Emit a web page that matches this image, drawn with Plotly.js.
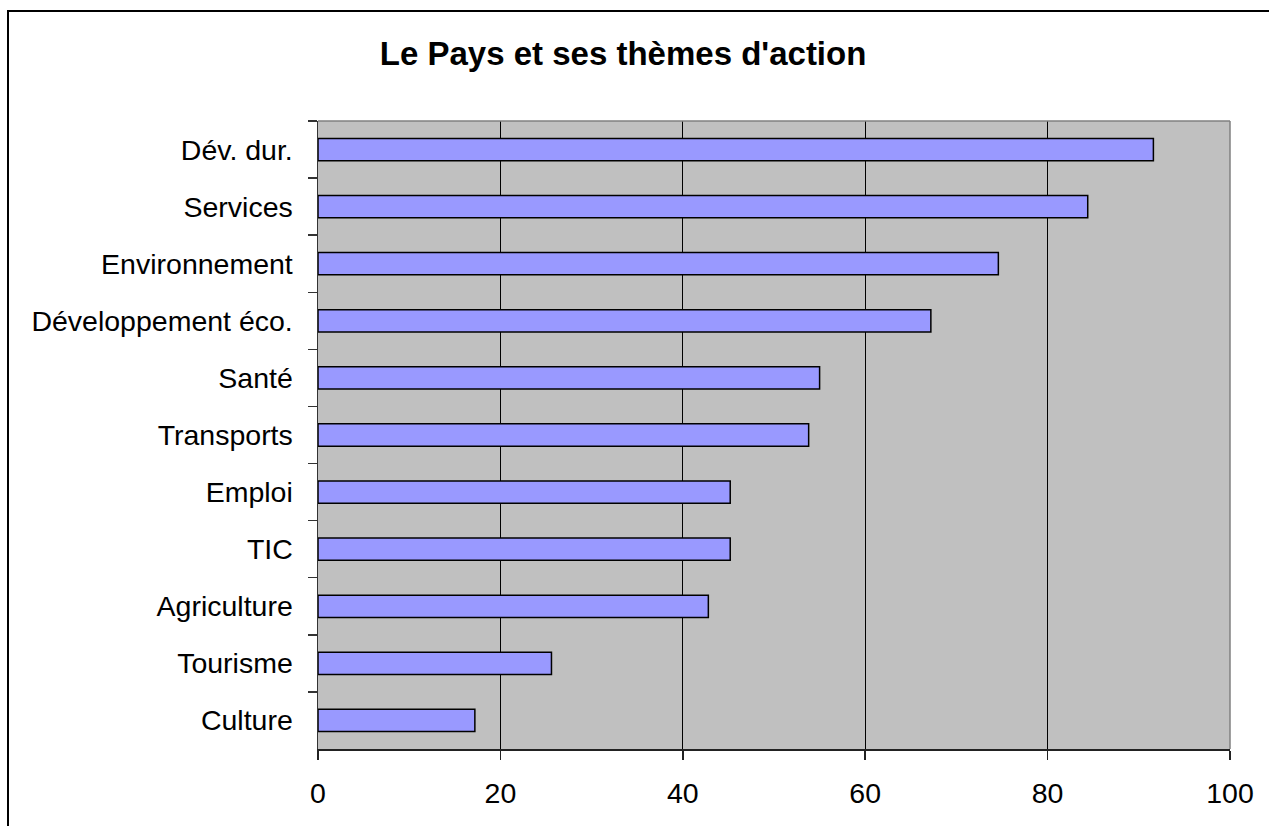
<!DOCTYPE html>
<html>
<head>
<meta charset="utf-8">
<script src="https://cdn.plot.ly/plotly-3.0.1.min.js"></script>
<style>
  html, body { margin: 0; padding: 0; background: #fff; overflow: hidden; }
  #chart { width: 1269px; height: 826px; }
  #frame { position: absolute; left: 7px; top: 10px; width: 1400px; height: 1000px;
           border: 2px solid #000; box-shadow: 1px 1px 0 #999; pointer-events: none; }
</style>
</head>
<body>
<div id="chart"></div>
<div id="frame"></div>
<script>
const categories = ["Dév. dur.", "Services", "Environnement", "Développement éco.", "Santé",
                    "Transports", "Emploi", "TIC", "Agriculture", "Tourisme", "Culture"];
const values = [91.6, 84.4, 74.6, 67.2, 55.0, 53.8, 45.2, 45.2, 42.8, 25.6, 17.2];
const xTicks = [0, 20, 40, 60, 80, 100];
const titleText = "Le Pays et ses thèmes d'action";

const font = "Liberation Sans, Arial, sans-serif";

const trace = {
  type: "bar",
  orientation: "h",
  x: values,
  y: categories,
  marker: { color: "#9999FF", line: { color: "#000000", width: 1.5 } },
  hoverinfo: "x+y"
};

const layout = {
  width: 1269,
  height: 826,
  paper_bgcolor: "#ffffff",
  plot_bgcolor: "#C0C0C0",
  margin: { l: 318, r: 39, t: 121, b: 77, pad: 0 },
  bargap: 0.61,
  showlegend: false,
  title: {
    text: "<b>" + titleText + "</b>",
    font: { family: font, size: 33, color: "#000" },
    xref: "container", x: 0.491, xanchor: "center",
    yref: "container", y: 0.935, yanchor: "middle"
  },
  xaxis: {
    range: [0, 100],
    tickvals: xTicks,
    ticktext: xTicks.map(String),
    showgrid: true,
    gridcolor: "#000000",
    gridwidth: 1,
    zeroline: false,
    showline: true,
    linecolor: "#222",
    linewidth: 1.5,
    ticks: "outside",
    ticklen: 9,
    tickcolor: "#222",
    tickwidth: 1.5,
    ticklabelstandoff: 9,
    tickfont: { family: font, size: 28.5, color: "#000" },
    fixedrange: true
  },
  yaxis: {
    type: "category",
    autorange: "reversed",
    showgrid: false,
    showline: true,
    linecolor: "#333",
    linewidth: 1.5,
    ticks: "outside",
    tickson: "boundaries",
    ticklen: 9,
    tickcolor: "#333",
    tickwidth: 1.5,
    ticklabelstandoff: 18,
    tickfont: { family: font, size: 28.5, color: "#000" },
    fixedrange: true
  },
  shapes: [
    { type: "line", xref: "paper", yref: "paper", x0: 0, x1: 1, y0: 1, y1: 1,
      line: { color: "#808080", width: 1.5 } },
    { type: "line", xref: "paper", yref: "paper", x0: 1, x1: 1, y0: 0, y1: 1,
      line: { color: "#808080", width: 1.5 } }
  ]
};

Plotly.newPlot("chart", [trace], layout, { displayModeBar: false, staticPlot: true });
</script>
</body>
</html>
